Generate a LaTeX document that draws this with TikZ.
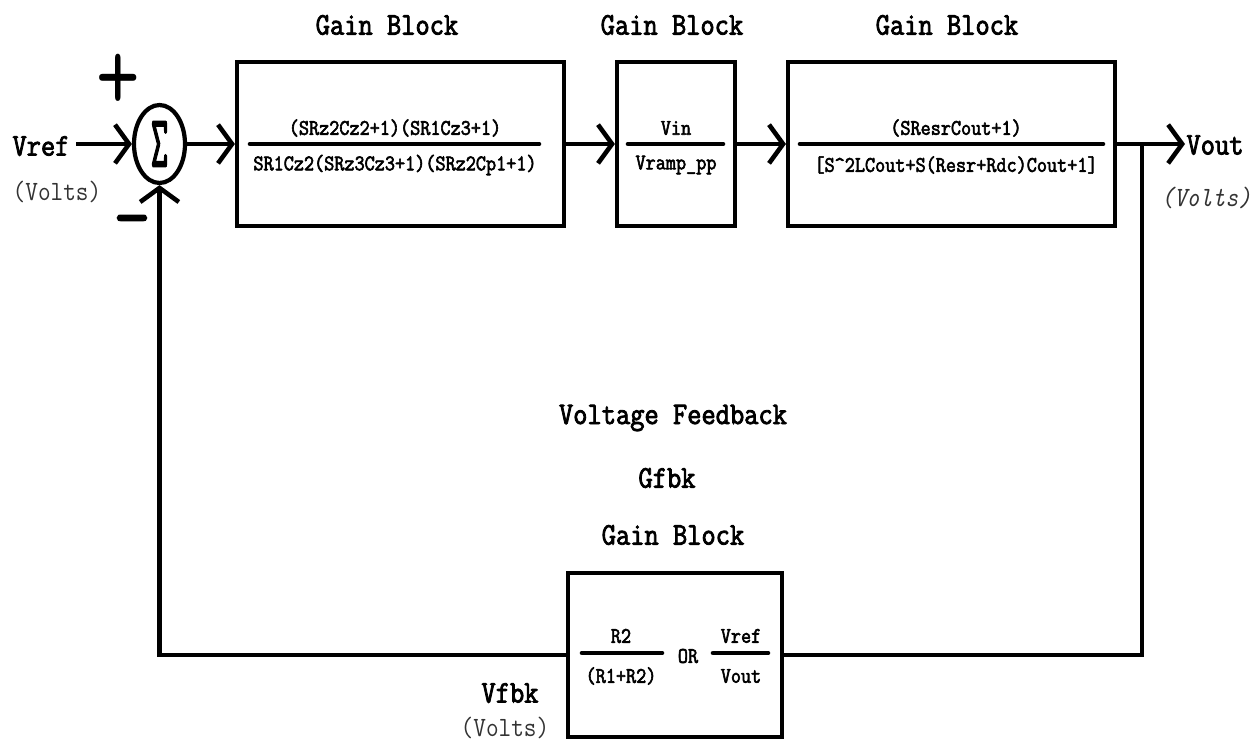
\documentclass[tikz,border=0pt]{standalone}
\usepackage{fontspec}
\usepackage{graphicx}
\newfontfamily\blk[FakeStretch=0.88, FakeBold=2.6]{Latin Modern Mono}
\newfontfamily\thin[FakeStretch=0.88]{Latin Modern Mono}
\usetikzlibrary{arrows.meta,shapes.geometric,positioning}

\tikzset{
  wire/.style={line width=2.6pt, line join=miter},
  sig/.style={wire, -{Straight Barb[length=8pt,width=22pt]}},
  gainbox/.style={draw, rectangle, line width=2.4pt, inner sep=0pt},
  fracbar/.style={line width=2.6pt, line cap=round},
  big/.style={font=\blk\fontsize{17.9}{20}\selectfont},
  small/.style={font=\blk\fontsize{12.7}{14}\selectfont},
  unit/.style={font=\thin\fontsize{15.9}{18}\selectfont, text=black!80},
  signlbl/.style={font=\blk\fontsize{42}{42}\selectfont, inner sep=0pt},
}

\begin{document}
\begin{tikzpicture}[x=0.02cm, y=-0.02cm]
\useasboundingbox (0,0) rectangle (1260,744);

% summing junction and the gain blocks
\node[draw, ellipse, line width=2.4pt, minimum width=1.02cm, minimum height=1.56cm, inner sep=0pt] (sum) at (159.5,144)
  {\resizebox{0.34cm}{0.9cm}{\blk Σ}};
\node[gainbox, minimum width=6.54cm, minimum height=3.28cm] (gA) at (400.5,144) {};
\node[gainbox, minimum width=2.36cm, minimum height=3.28cm] (gB) at (676,144) {};
\node[gainbox, minimum width=6.54cm, minimum height=3.28cm] (gC) at (951.5,144) {};
\node[gainbox, minimum width=4.28cm, minimum height=3.28cm] (gfb) at (675,655) {};

% titles
\node[big] (tA) at (387,25) {Gain Block};
\node[big] (tB) at (672,25) {Gain Block};
\node[big] (tC) at (947,25) {Gain Block};
\node[big] (tfb1) at (673,418) {Voltage Feedback};
\node[big] (tfb2) at (667,478) {Gfbk};
\node[big] (tfb3) at (673,535) {Gain Block};

% signals
\node[big] (vref) at (41,146) {Vref};
\node[unit] (vrefu) at (57,192) {(Volts)};
\node[big] (vout) at (1215,145) {Vout};
\node[unit, font=\thin\itshape\fontsize{15.9}{18}\selectfont] (voutu) at (1206,198) {(Volts)};
\node[big] (vfbk) at (510,693) {Vfbk};
\node[unit] (vfbku) at (505,728) {(Volts)};
\node[signlbl, font=\thin\fontsize{42}{42}\selectfont] (plus) at (118,82) {\scalebox{1.3}[1.45]{+}};
\node[signlbl] (minus) at (132,228) {−};

\coordinate (vrefin) at (76,144);
\coordinate (tap) at (1142,144);
\coordinate (voutend) at (1185,144);

\draw[sig] (vrefin) -- (sum.west);
\draw[sig] (sum.east) -- (gA.west);
\draw[sig] (gA.east) -- (gB.west);
\draw[sig] (gB.east) -- (gC.west);
\draw[sig] (gC.east) -- (voutend);
\draw[wire] (tap) |- (gfb.east);
\draw[sig] (gfb.west) -| (sum.south);

% transfer functions
\draw[fracbar] (250,144) -- (539,144);
\node[small] (numA) at (395,128) {(SRz2Cz2+1)(SR1Cz3+1)};
\node[small] (denA) at (395,165) {SR1Cz2(SRz3Cz3+1)(SRz2Cp1+1)};
\draw[fracbar] (628,144) -- (723,144);
\node[small] (numB) at (676,128) {Vin};
\node[small] (denB) at (676,165) {Vramp\_pp};
\draw[fracbar] (800,144) -- (1103,144);
\node[small] (numC) at (956,128) {(SResrCout+1)};
\node[small] (denC) at (956,165) {[S\string^2LCout+S(Resr+Rdc)Cout+1]};
\draw[fracbar] (582,653) -- (662,653);
\node[small] (numF) at (621,636) {R2};
\node[small] (denF) at (621,676) {(R1+R2)};
\node[small] (orF) at (688,656) {OR};
\draw[fracbar] (713,653) -- (768,653);
\node[small] (numG) at (741,636) {Vref};
\node[small] (denG) at (741,676) {Vout};
\end{tikzpicture}
\end{document}
